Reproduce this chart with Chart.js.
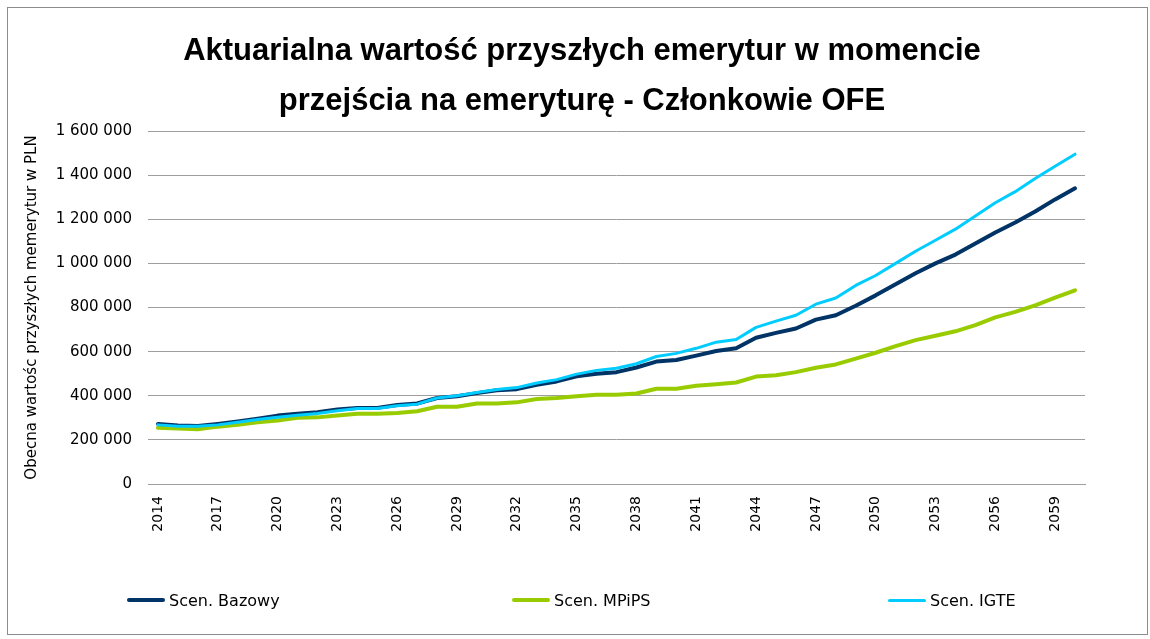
<!DOCTYPE html>
<html>
<head>
<meta charset="utf-8">
<script src="https://cdn.jsdelivr.net/npm/chart.js@4.4.1/dist/chart.umd.min.js"></script>
<style>
  html, body { margin: 0; padding: 0; background: #fff; }
  #wrap { position: relative; width: 1150px; height: 639px; }
  #frame { position: absolute; left: 7px; top: 7px; width: 1139px; height: 626px;
           border: 1px solid #8c8c8c; pointer-events: none; }
  #title { position: absolute; left: 182px; width: 800px; top: 25px; text-align: center;
           font: bold 31px/50px "Liberation Sans", sans-serif; color: #000; white-space: nowrap; }
  .leg { position: absolute; top: 589px; height: 22px; display: flex; align-items: center;
         font: 16px "DejaVu Sans", sans-serif; color: #000; }
  .leg span.sw { display: inline-block; width: 38px; height: 4px; margin-right: 4px; border-radius: 2px; }
</style>
</head>
<body>
<div id="wrap">
  <canvas id="chart" width="1150" height="639"></canvas>
  <div id="frame"></div>
  <div id="title"></div>
  <div class="leg" style="left:127px"><span class="sw" style="background:#003366"></span>Scen. Bazowy</div>
  <div class="leg" style="left:512px"><span class="sw" style="background:#99cc00"></span>Scen. MPiPS</div>
  <div class="leg" style="left:888px"><span class="sw" style="background:#00ccff;height:3px"></span>Scen. IGTE</div>
</div>
<script>
// years 2014..2060
const years = [];
for (let y = 2014; y <= 2060; y++) years.push(String(y));

const bazowy = [
  272000, 265000, 263000, 272000, 283000, 296000, 310000, 318000, 325000, 338000,
  345000, 345000, 358000, 365000, 390000, 398000, 412000, 425000, 430000, 450000,
  465000, 488000, 500000, 507000, 528000, 555000, 562000, 582000, 603000, 615000,
  663000, 685000, 705000, 745000, 765000, 808000, 855000, 905000, 955000, 1000000,
  1040000, 1090000, 1140000, 1185000, 1235000, 1290000, 1340000
];

const mpips = [
  255000, 252000, 248000, 260000, 268000, 280000, 288000, 300000, 302000, 310000,
  318000, 318000, 322000, 330000, 350000, 350000, 365000, 365000, 370000, 385000,
  390000, 398000, 405000, 405000, 410000, 432000, 432000, 445000, 452000, 460000,
  487000, 493000, 507000, 527000, 542000, 568000, 595000, 625000, 652000, 672000,
  692000, 720000, 755000, 780000, 810000, 845000, 878000
];

const igte = [
  268000, 262000, 262000, 268000, 280000, 292000, 303000, 312000, 320000, 332000,
  342000, 342000, 355000, 362000, 390000, 400000, 415000, 428000, 437000, 458000,
  473000, 498000, 515000, 525000, 545000, 578000, 592000, 615000, 643000, 655000,
  710000, 738000, 765000, 815000, 843000, 900000, 945000, 1000000, 1055000, 1105000,
  1155000, 1215000, 1275000, 1325000, 1385000, 1440000, 1495000
];

const titleLines = [
  'Aktuarialna wartość przyszłych emerytur w momencie',
  'przejścia na emeryturę - Członkowie OFE'
];

function fmt(v) {
  return String(v).replace(/\B(?=(\d{3})+(?!\d))/g, ' ');
}

document.getElementById('title').innerHTML = titleLines.join('<br>');

const ctx = document.getElementById('chart');

new Chart(ctx, {
  type: 'line',
  data: {
    labels: years,
    datasets: [
      { label: 'Scen. Bazowy', data: bazowy, borderColor: '#003366', borderWidth: 4, order: 3 },
      { label: 'Scen. MPiPS', data: mpips, borderColor: '#99cc00', borderWidth: 4, order: 2 },
      { label: 'Scen. IGTE', data: igte, borderColor: '#00ccff', borderWidth: 3, order: 1 },
    ],
  },
  options: {
    responsive: false,
    animation: false,
    elements: {
      point: { radius: 0 },
      line: { tension: 0, borderCapStyle: 'round', borderJoinStyle: 'round' },
    },
    layout: { padding: { left: 8, right: 65, top: 131, bottom: 85 } },
    plugins: {
      legend: { display: false },
      tooltip: { enabled: false },
    },
    scales: {
      x: {
        offset: true,
        grid: { display: false, drawTicks: false },
        border: { color: '#9e9e9e' },
        ticks: {
          autoSkip: false,
          maxRotation: 90,
          minRotation: 90,
          padding: 12,
          color: '#000',
          font: { family: '"DejaVu Sans", sans-serif', size: 14 },
          callback: (val, idx) => (idx % 3 === 0 ? years[idx] : ''),
        },
        afterFit: (s) => { s.height = 70; },
      },
      y: {
        min: 0,
        max: 1600000,
        grid: { color: '#9e9e9e', drawTicks: false },
        border: { display: false },
        ticks: {
          stepSize: 200000,
          padding: 16,
          color: '#000',
          font: { family: '"DejaVu Sans", sans-serif', size: 15 },
          callback: (v) => fmt(v),
        },
        title: {
          display: true,
          text: 'Obecna wartośc przyszłych memerytur w PLN',
          color: '#000',
          font: { family: '"DejaVu Sans", sans-serif', size: 15 },
          padding: { top: 15, bottom: 0 },
        },
        afterFit: (s) => { s.width = 140; },
      },
    },
  },
});
</script>
</body>
</html>
